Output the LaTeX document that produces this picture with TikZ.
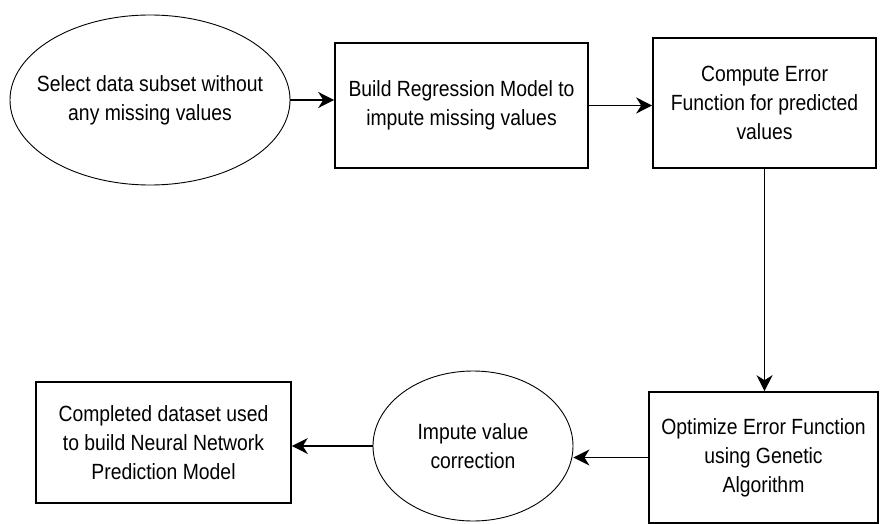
\documentclass[tikz,border=0pt]{standalone}
\usepackage{fontspec}
\setmainfont{Liberation Sans}[FakeStretch=0.88]
\usetikzlibrary{arrows.meta,shapes.geometric}
\begin{document}
\begin{tikzpicture}[x=1pt,y=1pt,line width=1.2pt,
    every node/.style={align=center,font=\fontsize{22}{29}\selectfont},
    stepbox/.style={draw,rectangle,inner sep=0pt,line width=1.6pt},
    stepoval/.style={draw,ellipse,inner sep=0pt,inner xsep=-24pt,line width=0.9pt},
    flow/.style={-{Stealth[length=16pt,width=16pt,inset=5pt]}}]
    \useasboundingbox (0,0) rectangle (880,-524);
    \node [stepoval,minimum width=280,minimum height=170] (select) at (150,-100) {Select data subset without\\any missing values};
    \node [stepbox,minimum width=253,minimum height=125] (build) at (461.5,-105.5) {Build Regression Model to\\impute missing values};
    \node [stepbox,minimum width=223,minimum height=130] (compute) at (764.5,-103) {Compute Error\\Function for predicted\\values};
    \node [stepbox,minimum width=229,minimum height=131] (optimize) at (763.5,-457.5) {Optimize Error Function\\using Genetic\\Algorithm};
    \node [stepoval,minimum width=200,minimum height=150] (impute) at (473,-446) {Impute value\\correction};
    \node [stepbox,minimum width=255,minimum height=121] (done) at (163.5,-442.5) {Completed dataset used\\to build Neural Network\\Prediction Model};
    \draw [flow] (select.east) -- (select.east -| build.west);
    \draw [flow] (build.east) -- (build.east -| compute.west);
    \draw [flow] (compute.south) -- (compute.south |- optimize.north);
    \draw [flow] (optimize.west) -- (optimize.west -| impute.east);
    \draw [flow] (impute.west) -- (impute.west -| done.east);
\end{tikzpicture}
\end{document}
